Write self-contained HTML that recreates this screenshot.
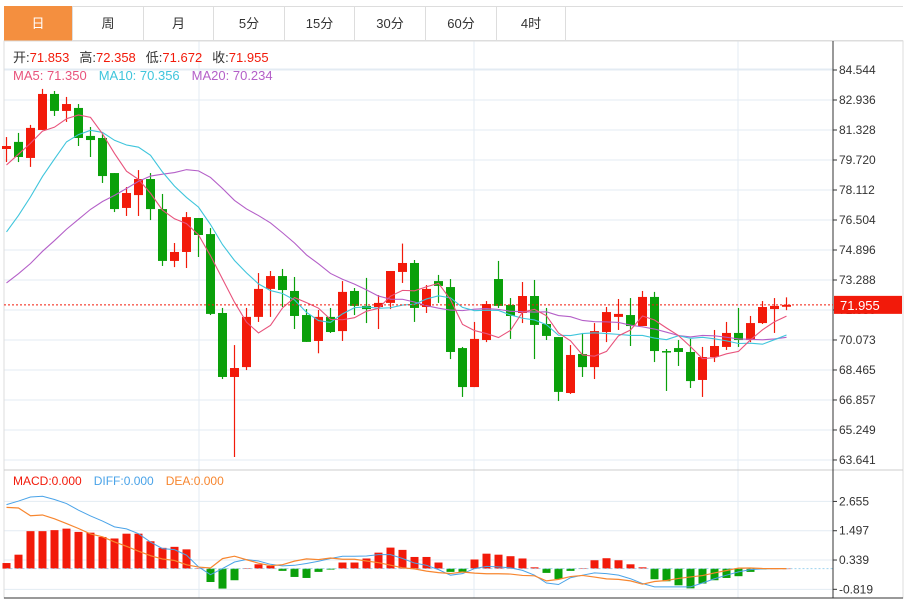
<!DOCTYPE html>
<html><head><meta charset="utf-8">
<style>
body{margin:0;background:#fff;font-family:"Liberation Sans","Noto Sans CJK SC",sans-serif;}
#wrap{position:relative;width:910px;height:601px;overflow:hidden;background:#fff;}
.tab{position:absolute;top:6px;height:35px;line-height:35px;text-align:center;font-size:13px;color:#333;border-right:1px solid #ddd;box-sizing:border-box;}
svg text{font-family:"Liberation Sans","Noto Sans CJK SC",sans-serif;}
</style></head><body>
<div id="wrap">
<div style="position:absolute;left:4px;top:6px;width:899px;height:35px;border-top:1px solid #ddd;border-bottom:1px solid #ddd;box-sizing:border-box"></div>
<div class="tab" style="left:4px;width:69px;background:#f48f3f;color:#fff">日</div>
<div class="tab" style="left:73px;width:71px">周</div>
<div class="tab" style="left:144px;width:70px">月</div>
<div class="tab" style="left:214px;width:71px">5分</div>
<div class="tab" style="left:285px;width:70px">15分</div>
<div class="tab" style="left:355px;width:71px">30分</div>
<div class="tab" style="left:426px;width:71px">60分</div>
<div class="tab" style="left:497px;width:69px">4时</div>
<svg id="svg" width="910" height="601" style="position:absolute;left:0;top:0"></svg>
</div>
<script>
const opens=[80.31,80.69,79.83,81.33,83.26,82.35,82.51,81.01,80.90,79.02,77.15,77.84,78.70,77.09,74.31,74.79,76.61,75.75,71.52,68.09,68.62,71.31,72.81,73.50,72.70,71.41,70.02,71.31,70.55,72.70,71.90,71.84,72.06,73.72,74.20,71.84,73.23,72.91,69.64,67.55,70.07,73.34,71.95,71.52,72.43,70.93,70.23,67.23,69.32,68.62,70.50,71.31,71.41,70.82,72.38,69.48,69.64,69.43,67.93,69.16,69.70,70.45,70.07,70.98,71.73,71.853];
const closes=[80.47,79.88,81.44,83.26,82.35,82.72,80.90,80.79,78.86,77.09,77.95,78.70,77.09,74.31,74.79,76.66,75.70,71.47,68.09,68.57,71.31,72.81,73.50,72.75,71.36,69.97,71.31,70.50,72.65,71.90,71.73,72.06,73.77,74.20,71.79,72.81,72.97,69.43,67.55,70.13,72.00,71.90,71.36,72.43,70.88,70.29,67.29,69.27,68.62,70.55,71.57,71.47,70.82,72.38,69.48,69.43,69.43,67.87,69.16,69.75,70.45,70.07,70.98,71.84,71.90,71.955];
const highs=[80.95,81.17,81.60,83.53,83.42,83.10,82.72,81.49,81.11,79.02,78.27,79.18,79.02,77.90,75.27,76.93,76.61,76.07,71.79,69.80,71.79,73.66,73.77,73.88,73.45,71.73,71.68,71.79,73.23,72.86,73.40,72.48,73.77,75.24,74.36,73.02,73.56,73.34,69.70,71.04,72.16,74.31,72.32,73.18,73.29,71.79,70.23,69.80,70.45,70.98,71.84,72.27,72.32,72.70,72.65,69.59,70.07,70.13,69.70,70.61,71.04,71.79,71.36,72.16,72.32,72.358];
const lows=[79.61,79.61,79.35,81.33,82.08,81.76,80.47,79.88,78.49,76.93,76.72,76.72,76.50,74.04,73.98,73.93,74.52,71.41,67.98,63.80,68.46,71.04,71.31,71.84,70.66,69.97,69.36,70.45,70.02,71.41,70.98,70.66,71.73,73.13,71.04,71.52,72.06,69.05,67.02,67.55,69.96,71.79,70.13,70.98,69.05,70.07,66.80,67.18,68.09,67.98,69.96,70.61,69.75,70.82,68.89,67.34,68.68,67.50,67.02,68.89,69.54,69.70,69.96,70.93,70.45,71.672];
const historyCloses=[70.0,70.5,70.2,70.8,70.6,70.3,70.1,70.4,70.5,70.6,71.0,71.5,72.3,73.0,73.55,77.0,78.5,80.0,81.3];
const macdHist=[0.22,0.55,1.48,1.48,1.52,1.58,1.45,1.42,1.25,1.19,1.38,1.38,1.08,0.82,0.86,0.76,0.02,-0.53,-0.79,-0.46,0.02,0.17,0.11,-0.09,-0.33,-0.37,-0.13,-0.04,0.24,0.24,0.40,0.63,0.83,0.74,0.46,0.46,0.24,-0.13,-0.13,0.36,0.59,0.55,0.49,0.40,0.05,-0.17,-0.41,-0.09,0.02,0.33,0.41,0.33,0.17,0.05,-0.42,-0.50,-0.66,-0.78,-0.59,-0.46,-0.37,-0.30,-0.13,-0.03,0,0];
const diffVals=[2.53,2.67,2.83,2.86,2.73,2.57,2.31,2.08,1.88,1.65,1.57,1.38,1.05,0.79,0.75,0.53,0.07,-0.24,0,0.26,0.36,0.30,0.17,0.11,0.13,0.20,0.29,0.40,0.49,0.49,0.50,0.55,0.55,0.40,0.22,0.13,-0.04,-0.26,-0.20,0,0.09,0.07,0.03,-0.07,-0.26,-0.57,-0.63,-0.36,-0.26,-0.17,-0.20,-0.26,-0.40,-0.59,-0.72,-0.72,-0.72,-0.72,-0.57,-0.40,-0.26,-0.13,-0.04,-0.01,0,0];
const priceTicks=[84.544,82.936,81.328,79.720,78.112,76.504,74.896,73.288,71.680,70.073,68.465,66.857,65.249,63.641];
const macdTicks=[2.655,1.497,0.339,-0.819];

const svg=document.getElementById('svg');
const NS='http://www.w3.org/2000/svg';
function mk(tag,attrs,parent){const e=document.createElementNS(NS,tag);for(const k in attrs)e.setAttribute(k,attrs[k]);(parent||svg).appendChild(e);return e;}
const X=i=>6.5+12*i;
const Y=p=>70+(84.544-p)*30/1.608;
const MY=v=>568.6-v*25.3;
const RED='#f21a0a',GRN='#0aa00a';

// frame
let g=mk('g',{});


priceTicks.forEach(t=>{mk('line',{x1:4,x2:833,y1:Y(t),y2:Y(t),stroke:'#e3ebf3'},g);});
macdTicks.forEach(t=>{mk('line',{x1:4,x2:833,y1:MY(t),y2:MY(t),stroke:'#e3ebf3'},g);});
mk('line',{x1:4,x2:833,y1:70-1,y2:70-1,stroke:'#e3ebf3'},g);
[199,474,738].forEach(x=>mk('line',{x1:x,x2:x,y1:41,y2:598,stroke:'#e3ebf3'},g));
mk('rect',{x:4,y:41,width:899,height:557,fill:'none',stroke:'#ddd'});
mk('line',{x1:4,x2:903,y1:470,y2:470,stroke:'#ccc'});
mk('line',{x1:833,x2:833,y1:41,y2:598,stroke:'#333'});
mk('line',{x1:4,x2:903,y1:598,y2:598,stroke:'#333'});

// axes labels
let ax=mk('g',{});


priceTicks.forEach(t=>{mk('line',{x1:833,x2:837,y1:Y(t),y2:Y(t),stroke:'#333'},ax);const tx=mk('text',{x:839,y:Y(t)+4,'font-size':12,fill:'#333'},ax);tx.textContent=t.toFixed(3);});
let ax2=mk('g',{});


macdTicks.forEach(t=>{mk('line',{x1:833,x2:837,y1:MY(t),y2:MY(t),stroke:'#333'},ax2);const tx=mk('text',{x:839,y:MY(t)+4,'font-size':12,fill:'#333'},ax2);tx.textContent=t.toFixed(3);});

// candles
const last=closes[closes.length-1];
let cg=mk('g',{});


closes.forEach((c,i)=>{
  const o=opens[i],up=c>=o,col=up?RED:GRN;
  const w=mk('line',{x1:X(i),x2:X(i),y1:Y(highs[i]),y2:Y(lows[i]),stroke:col,'stroke-width':1.2},cg);
  
  
  const top=Y(Math.max(o,c)),h=Math.max(1.5,Math.abs(Y(o)-Y(c)));
  const b=mk('rect',{x:X(i)-4.5,y:top,width:9,height:h,fill:col},cg);
  
  
});

// MAs
const all=historyCloses.concat(closes);
function ma(n){return closes.map((c,i)=>{let s=0;for(let k=0;k<n;k++)s+=all[historyCloses.length+i-k];return s/n;});}
[[20,'#b45fc8','ma20-line'],[10,'#3fc5dc','ma10-line'],[5,'#e8537c','ma5-line']].forEach(([n,col,name])=>{
  const v=ma(n);
  const p=mk('polyline',{points:v.map((m,i)=>X(i)+','+Y(m)).join(' '),fill:'none',stroke:col,'stroke-width':1.1});
  
  
});

// last price line & tag
const ll=mk('line',{x1:4,x2:833,y1:Y(last),y2:Y(last),stroke:'#f21a0a','stroke-dasharray':'2,2'});


const tag=mk('rect',{x:834,y:Y(last)-9,width:68,height:18,fill:'#f21a0a'});


const tt=mk('text',{x:840,y:Y(last)+5,'font-size':13,fill:'#fff'});
tt.textContent=last.toFixed(3);

// MACD
let mg=mk('g',{});


macdHist.forEach((v,i)=>{
  const y0=MY(0),y1=MY(v);
  const r=mk('rect',{x:X(i)-4,y:Math.min(y0,y1),width:8,height:Math.max(0.5,Math.abs(y1-y0)),fill:v>=0?RED:GRN},mg);
  
  
});
const zl=mk('line',{x1:X(0),x2:833,y1:MY(0),y2:MY(0),stroke:'#9fd3ee','stroke-dasharray':'2,2'});


const dea=diffVals.map((d,i)=>d-macdHist[i]/2);
const dl=mk('polyline',{points:diffVals.map((v,i)=>X(i)+','+MY(v)).join(' '),fill:'none',stroke:'#4aa3e8','stroke-width':1});


const el=mk('polyline',{points:dea.map((v,i)=>X(i)+','+MY(v)).join(' '),fill:'none',stroke:'#f7862f','stroke-width':1.2});



// legends
function legend(parts,y,name,size){const t=mk('text',{x:13,y:y,'font-size':size});parts.forEach(([s,c,dx])=>{const sp=mk('tspan',{fill:c},t);if(dx)sp.setAttribute('dx',dx);sp.textContent=s;});}
legend([['开:','#333'],['71.853','#f21a0a'],['高:','#333',10],['72.358','#f21a0a'],['低:','#333',10],['71.672','#f21a0a'],['收:','#333',10],['71.955','#f21a0a']],62,'ohlc-legend',13);
legend([['MA5: 71.350','#e8537c'],['MA10: 70.356','#3fc5dc',12],['MA20: 70.234','#b45fc8',12]],80,'ma-legend',13);
legend([['MACD:0.000','#f21a0a'],['DIFF:0.000','#4aa3e8',12],['DEA:0.000','#f7862f',12]],485,'macd-legend',12);
</script>
</body></html>
